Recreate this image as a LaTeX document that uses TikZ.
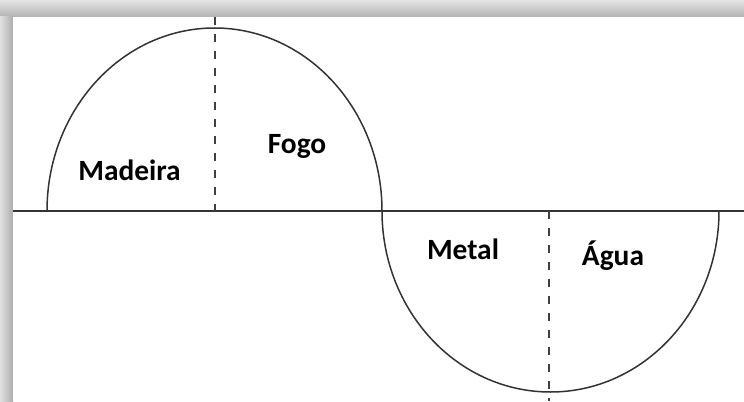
\documentclass[tikz,border=0pt]{standalone}
\usepackage{fontspec}
\setmainfont{Carlito}
\usetikzlibrary{positioning}

\begin{document}
\begin{tikzpicture}[x=1bp, y=1bp,
		wave/.style={line width=1.5bp, black!80},
		axisline/.style={line width=1.6bp, black!80},
		divider/.style={line width=1.3bp, black!75, dash pattern=on 8bp off 9bp},
		phase/.style={font=\fontsize{29.5}{35}\selectfont\bfseries, anchor=base, inner sep=0pt}]
		% Fix the page to the reference size
		\useasboundingbox (0,0) rectangle (744,401);
		
		% 1. Shadow of the frame (top and left)
		\shade[top color=black!10, bottom color=black!30] (0,384) rectangle (744,401);
		\shade[left color=black!12, right color=black!32] (0,0) rectangle (13,384);
		\fill[white] (13,0) rectangle (744,384);
		
		% 2. Base line and the two half waves
		\coordinate (L) at (13,190);
		\coordinate (R) at (744,190);
		\coordinate (W0) at (47,190);
		\draw[axisline] (L) -- (R);
		\draw[wave] (W0) arc[start angle=180, end angle=0, x radius=167.5, y radius=183]
			arc[start angle=180, end angle=360, x radius=168.5, y radius=181];
		
		% 3. Dashed dividers at the crest and the trough
		\coordinate (C1) at (215,384);
		\coordinate (C1b) at (215,190);
		\coordinate (C2) at (549,190);
		\coordinate (C2b) at (549,0);
		\draw[divider] (C1) -- (C1b);
		\draw[divider] (C2) -- (C2b);
		
		% 4. Labels of the four phases
		\node[phase] (madeira) at (129.5,221) {Madeira};
		\node[phase] (fogo) at (297,248) {Fogo};
		\node[phase] (metal) at (463,142) {Metal};
		\node[phase] (agua) at (613,136) {Água};
		
	\end{tikzpicture}
\end{document}
